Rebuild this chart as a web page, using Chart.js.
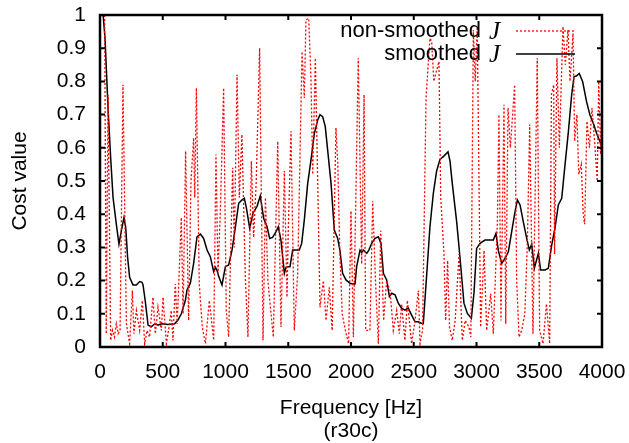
<!DOCTYPE html>
<html lang="en">
<head>
    <meta charset="UTF-8">
    <title>Cost value vs frequency (r30c)</title>
    <script src="https://cdn.jsdelivr.net/npm/chart.js"></script>
    <style>
        body {
            margin: 0;
            background-color: #fff;
        }
        #wrap {
            width: 629px;
            height: 443px;
        }
    </style>
</head>
<body>
    <div id="wrap">
        <canvas id="costChart" width="629" height="443"></canvas>
    </div>

    <script>
        // non-smoothed J (peaks and troughs)
        const redFreq = [37, 50, 64, 85, 100, 115, 130, 145, 160, 183, 210, 236, 258, 270, 290, 316, 337, 356, 375, 395,
            422, 441, 462, 489, 502, 529, 550, 568, 581, 600, 615, 648, 662, 682, 706, 725, 746, 755, 768, 791,
            815, 840, 871, 906, 924, 940, 959, 985, 1006, 1025, 1057, 1070, 1092, 1110, 1131, 1158, 1179, 1206, 1224, 1245,
            1272, 1299, 1318, 1338, 1355, 1381, 1416, 1442, 1469, 1490, 1500, 1522, 1548, 1575, 1610, 1628, 1641, 1663, 1681, 1695,
            1716, 1735, 1753, 1780, 1801, 1827, 1850, 1880, 1895, 1910, 1930, 1955, 1981, 2000, 2019, 2058, 2085, 2104, 2117, 2151,
            2173, 2195, 2218, 2237, 2260, 2284, 2311, 2337, 2364, 2385, 2403, 2430, 2449, 2483, 2510, 2537, 2550, 2570, 2598, 2629,
            2643, 2660, 2701, 2715, 2741, 2754, 2770, 2785, 2807, 2830, 2861, 2887, 2910, 2940, 2955, 2975, 2990, 3006, 3033, 3060,
            3081, 3113, 3134, 3166, 3179, 3195, 3219, 3233, 3251, 3270, 3304, 3320, 3339, 3360, 3385, 3405, 3424, 3450, 3484, 3503,
            3530, 3557, 3583, 3597, 3615, 3622, 3641, 3660, 3689, 3708, 3729, 3745, 3769, 3782, 3800, 3815, 3835, 3850, 3862, 3880,
            3900, 3920, 3941, 3962, 3974, 3990, 4000];
        const redCost = [1.0, 0.04, 0.76, 0.02, 0.05, 0.03, 0.07, 0.04, 0.05, 0.79, 0.07, 0.01, 0.17, 0.04, 0.11, 0.05, 0.14, 0.01, 0.05, 0.03,
            0.15, 0.04, 0.12, 0.05, 0.15, 0.01, 0.06, 0.11, 0.02, 0.19, 0.07, 0.39, 0.10, 0.59, 0.08, 0.50, 0.63, 0.45, 0.78, 0.19,
            0.06, 0.01, 0.14, 0.02, 0.58, 0.22, 0.41, 0.78, 0.11, 0.03, 0.54, 0.30, 0.82, 0.45, 0.64, 0.21, 0.03, 0.56, 0.33, 0.50,
            0.90, 0.02, 0.45, 0.20, 0.13, 0.03, 0.62, 0.06, 0.53, 0.15, 0.35, 0.65, 0.05, 0.22, 0.89, 0.75, 0.985, 0.99, 0.81, 0.52,
            0.87, 0.49, 0.12, 0.20, 0.08, 0.18, 0.05, 0.66, 0.55, 0.30, 0.10, 0.05, 0.01, 0.41, 0.03, 0.87, 0.25, 0.76, 0.05, 0.05,
            0.44, 0.20, 0.01, 0.35, 0.08, 0.20, 0.17, 0.05, 0.11, 0.04, 0.13, 0.02, 0.14, 0.01, 0.08, 0.17, 0.01, 0.05, 0.75, 0.93,
            0.92, 0.80, 0.86, 0.45, 0.28, 0.08, 0.26, 0.06, 0.02, 0.08, 0.28, 0.02, 0.08, 0.06, 0.03, 0.955, 0.80, 0.965, 0.06, 0.29,
            0.05, 0.16, 0.04, 0.37, 0.70, 0.08, 0.73, 0.07, 0.72, 0.60, 0.79, 0.20, 0.03, 0.05, 0.10, 0.31, 0.67, 0.04, 0.87, 0.05,
            0.01, 0.13, 0.01, 0.76, 0.79, 0.28, 0.87, 0.60, 0.965, 0.85, 0.955, 0.80, 0.945, 0.62, 0.70, 0.52, 0.55, 0.40, 0.37, 0.68,
            0.60, 0.72, 0.62, 0.50, 0.80, 0.58, 0.75];

        // smoothed J
        const smoothFreq = [25, 40, 64, 85, 104, 130, 151, 170, 191, 205, 220, 236, 263, 290, 316, 335, 343, 360, 369, 383,
            409, 436, 462, 489, 542, 595, 621, 648, 680, 693, 720, 746, 773, 800, 826, 853, 879, 906, 920, 933,
            946, 972, 999, 1025, 1052, 1079, 1105, 1132, 1150, 1166, 1193, 1219, 1251, 1277, 1304, 1331, 1352, 1375, 1402, 1421,
            1442, 1469, 1482, 1496, 1514, 1535, 1562, 1588, 1607, 1628, 1655, 1681, 1708, 1735, 1753, 1774, 1795, 1814, 1841, 1867,
            1894, 1912, 1933, 1960, 1992, 2019, 2032, 2045, 2072, 2085, 2099, 2125, 2140, 2165, 2191, 2218, 2239, 2258, 2284, 2306,
            2324, 2351, 2377, 2403, 2430, 2456, 2483, 2510, 2536, 2563, 2576, 2602, 2629, 2656, 2682, 2709, 2740, 2773, 2789, 2807,
            2842, 2861, 2880, 2900, 2927, 2959, 2980, 3001, 3028, 3068, 3108, 3134, 3155, 3174, 3201, 3227, 3254, 3280, 3307, 3326,
            3347, 3373, 3400, 3421, 3440, 3461, 3493, 3511, 3546, 3572, 3599, 3625, 3652, 3679, 3705, 3732, 3758, 3777, 3798, 3819,
            3846, 3877, 3904, 3931, 3957, 3984, 4000];
        const smoothCost = [1.0, 0.93, 0.72, 0.57, 0.45, 0.37, 0.31, 0.35, 0.39, 0.36, 0.27, 0.21, 0.187, 0.187, 0.197, 0.195, 0.187, 0.14, 0.111, 0.066,
            0.061, 0.07, 0.066, 0.07, 0.068, 0.07, 0.081, 0.10, 0.14, 0.172, 0.192, 0.252, 0.332, 0.34, 0.327, 0.292, 0.272, 0.227, 0.24, 0.23,
            0.212, 0.187, 0.242, 0.247, 0.292, 0.362, 0.433, 0.443, 0.448, 0.42, 0.357, 0.403, 0.423, 0.455, 0.388, 0.362, 0.327, 0.33, 0.347, 0.362,
            0.322, 0.222, 0.24, 0.242, 0.242, 0.292, 0.292, 0.292, 0.312, 0.383, 0.493, 0.563, 0.643, 0.684, 0.70, 0.694, 0.664, 0.593, 0.493, 0.352,
            0.327, 0.29, 0.222, 0.202, 0.192, 0.19, 0.19, 0.242, 0.292, 0.285, 0.292, 0.282, 0.29, 0.312, 0.327, 0.332, 0.312, 0.222, 0.202, 0.152,
            0.162, 0.157, 0.132, 0.117, 0.111, 0.117, 0.096, 0.076, 0.076, 0.071, 0.071, 0.212, 0.362, 0.463, 0.53, 0.565, 0.575, 0.588, 0.56, 0.493,
            0.377, 0.30, 0.22, 0.132, 0.101, 0.086, 0.163, 0.297, 0.312, 0.322, 0.322, 0.322, 0.342, 0.29, 0.252, 0.267, 0.287, 0.347, 0.408, 0.443,
            0.428, 0.377, 0.327, 0.292, 0.31, 0.237, 0.282, 0.232, 0.232, 0.237, 0.307, 0.357, 0.428, 0.448, 0.548, 0.648, 0.759, 0.814, 0.817, 0.824,
            0.799, 0.739, 0.699, 0.674, 0.644, 0.618, 0.60];

        const legendLabels = ['non-smoothed', 'smoothed'];
        const xTitle = ['Frequency [Hz]', '(r30c)'];
        const yTitle = 'Cost value';

        const FONT = '"Liberation Sans", Arial, sans-serif';
        Chart.defaults.font.family = FONT;
        Chart.defaults.color = '#000';

        function toPoints(xs, ys) {
            return xs.map((x, i) => ({ x: x, y: ys[i] }));
        }

        // gnuplot-like frame: border all round, ticks pointing inward, legend with sample on the right
        const framePlugin = {
            id: 'frame',
            afterDraw(chart) {
                const ctx = chart.ctx;
                const a = chart.chartArea;
                const xs = chart.scales.x;
                const ys = chart.scales.y;
                ctx.save();
                ctx.strokeStyle = '#000';
                ctx.lineWidth = 2;
                ctx.setLineDash([]);
                const len = 5;
                ctx.beginPath();
                xs.ticks.forEach(t => {
                    const px = xs.getPixelForValue(t.value);
                    ctx.moveTo(px, a.bottom); ctx.lineTo(px, a.bottom - len);
                    ctx.moveTo(px, a.top); ctx.lineTo(px, a.top + len);
                });
                ys.ticks.forEach(t => {
                    const py = ys.getPixelForValue(t.value);
                    ctx.moveTo(a.left, py); ctx.lineTo(a.left + len, py);
                    ctx.moveTo(a.right, py); ctx.lineTo(a.right - len, py);
                });
                ctx.stroke();
                ctx.lineWidth = 2.5;
                ctx.strokeRect(a.left, a.top, a.right - a.left, a.bottom - a.top);

                // legend
                const textRight = 500;
                const rows = [31, 54];
                chart.data.datasets.forEach((ds, i) => {
                    const y = rows[i];
                    ctx.textBaseline = 'middle';
                    ctx.textAlign = 'right';
                    ctx.fillStyle = '#000';
                    ctx.font = 'italic 25px "Liberation Serif", serif';
                    const jw = ctx.measureText('J').width;
                    ctx.fillText('J', textRight, y + 1);
                    ctx.font = '22px ' + FONT;
                    ctx.fillText(legendLabels[i], textRight - jw - 8, y);
                    ctx.beginPath();
                    ctx.strokeStyle = ds.borderColor;
                    ctx.lineWidth = ds.borderWidth;
                    ctx.setLineDash(ds.borderDash || []);
                    ctx.moveTo(516, y);
                    ctx.lineTo(575, y);
                    ctx.stroke();
                });
                ctx.restore();
            }
        };

        const ctx = document.getElementById('costChart').getContext('2d');
        new Chart(ctx, {
            type: 'line',
            data: {
                datasets: [{
                    label: 'non-smoothed J',
                    data: toPoints(redFreq, redCost),
                    borderColor: '#ff0000',
                    borderWidth: 1.3,
                    borderDash: [2, 2],
                    pointRadius: 0,
                    tension: 0,
                    fill: false
                }, {
                    label: 'smoothed J',
                    data: toPoints(smoothFreq, smoothCost),
                    borderColor: '#000000',
                    borderWidth: 1.5,
                    pointRadius: 0,
                    tension: 0,
                    fill: false
                }]
            },
            options: {
                responsive: false,
                animation: false,
                layout: {
                    padding: { top: 15, right: 27, left: 0, bottom: 0 }
                },
                plugins: {
                    legend: { display: false },
                    tooltip: { enabled: false }
                },
                scales: {
                    x: {
                        type: 'linear',
                        min: 0,
                        max: 4000,
                        grid: { display: false, drawTicks: false },
                        border: { display: false },
                        ticks: {
                            stepSize: 500,
                            padding: 13,
                            maxRotation: 0,
                            font: { size: 21 },
                            callback: v => String(v)
                        },
                        title: {
                            display: true,
                            text: xTitle,
                            font: { size: 21, lineHeight: 1.1 },
                            padding: { top: 0, bottom: 0 }
                        },
                        afterFit: scale => {
                            scale.height = 96;
                            scale.paddingLeft = 0;
                            scale.paddingRight = 0;
                        }
                    },
                    y: {
                        min: 0,
                        max: 1,
                        grid: { display: false, drawTicks: false },
                        border: { display: false },
                        ticks: {
                            stepSize: 0.1,
                            padding: 14,
                            font: { size: 21 },
                            callback: v => String(+v.toFixed(1))
                        },
                        title: {
                            display: true,
                            text: yTitle,
                            font: { size: 21, lineHeight: 1.2 },
                            padding: { top: 8, bottom: 0 }
                        },
                        afterFit: scale => {
                            scale.width = 100;
                            scale.paddingTop = 0;
                            scale.paddingBottom = 0;
                        }
                    }
                }
            },
            plugins: [framePlugin]
        });
    </script>
</body>
</html>
